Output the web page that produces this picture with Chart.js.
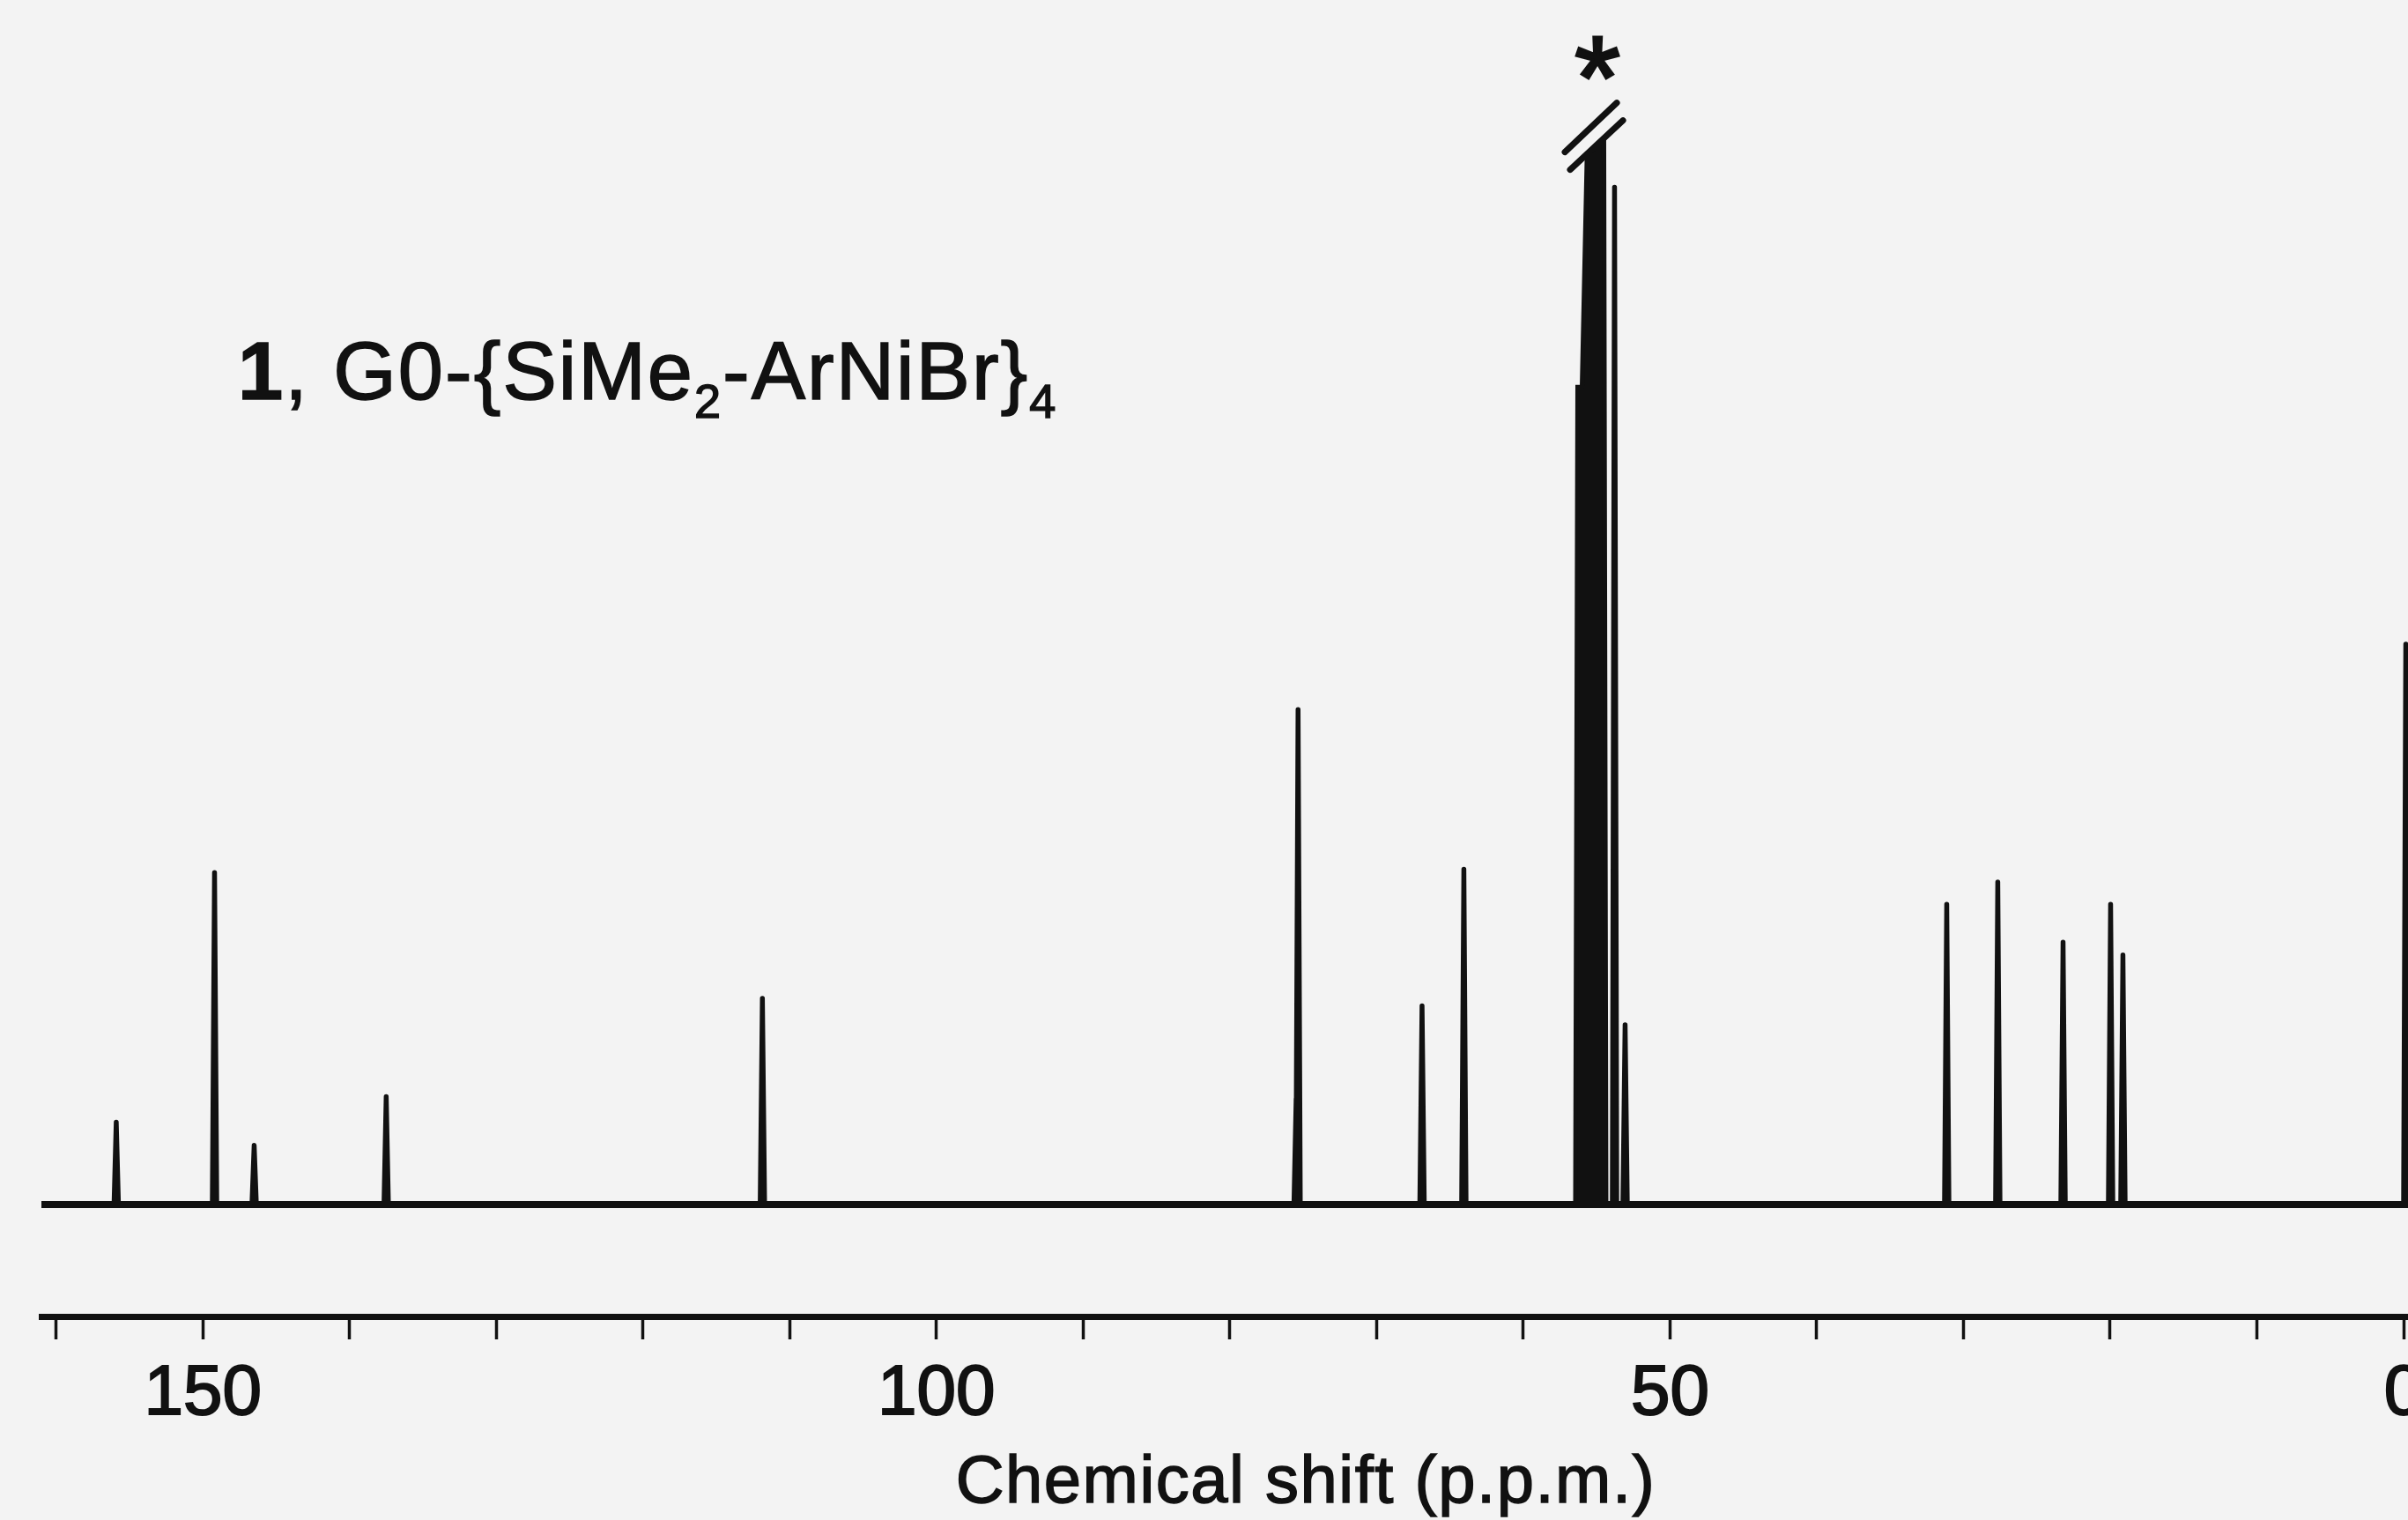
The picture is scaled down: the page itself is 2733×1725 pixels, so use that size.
<!DOCTYPE html>
<html>
<head>
<meta charset="utf-8">
<title>13C NMR spectrum of G0-{SiMe2-ArNiBr}4</title>
<script src="https://cdn.jsdelivr.net/npm/chart.js@4.4.1/dist/chart.umd.min.js"></script>
<style>
  html, body { margin: 0; padding: 0; background: #f3f3f3; overflow: hidden; }
  #wrap { width: 2733px; height: 1725px; position: relative; }
</style>
</head>
<body>
<div id="wrap"><canvas id="spectrum"></canvas></div>
<script>
// peaks: chemical shift (ppm) and height (arbitrary units)
const peakShift  = [155.9, 149.2, 146.5, 137.5, 111.86, 75.48, 75.35, 66.9, 64.05, 53.78, 53.06, 31.14, 27.66, 23.21, 19.97, 19.13, -0.15];
const peakHeight = [7.8,   31.4,  5.6,   10.2,  19.5,   10.0,  46.8,  18.8, 31.7,  96.2,  17.0,  28.4,  30.5,  24.8,  28.4,  23.6,  53.0];

// solvent multiplet (marked *), its top is cut off by the break
const solventShift  = [56.30, 56.00, 55.64, 55.34, 55.04, 54.74, 54.50];
const solventHeight = [77.3,  77.3,  100.6, 100.6, 100.6, 100.6, 100.6];

const tickLabels = [150, 100, 50, 0];
const xRange = [-0.3, 161];
const yRange = [-10.58, 113.9];

const titleParts = [
  { text: "1", bold: true },
  { text: ", G0-{SiMe" },
  { text: "2", sub: true },
  { text: "-ArNiBr}" },
  { text: "4", sub: true },
];
const axisTitle = "Chemical shift (p.p.m.)";

const INK = "#111";
const PAPER = "#f3f3f3";
const FONT = "'Liberation Sans', Arial, Helvetica, sans-serif";
const HALF = 0.15; // half width of a line at its foot, ppm

// each resolved line is drawn as a narrow spike on the baseline
function buildSpectrum() {
  const lines = peakShift.map((s, i) => ({ s, h: peakHeight[i] }))
    .sort((a, b) => b.s - a.s);
  const pts = [];
  lines.forEach((p) => {
    pts.push({ x: p.s + HALF, y: 0 });
    pts.push({ x: p.s, y: p.h });
    pts.push({ x: p.s - HALF, y: 0 });
  });
  return pts;
}

// the solvent multiplet prints as one solid block: take its envelope
function buildSolvent() {
  const n = solventShift.length;
  const pts = [{ x: solventShift[0] + HALF, y: 0 }];
  solventShift.forEach((s, i) => pts.push({ x: s, y: solventHeight[i] }));
  pts.push({ x: solventShift[n - 1] - HALF, y: 0 });
  return pts;
}

const decorations = {
  id: "decorations",
  afterDatasetsDraw(chart) {
    const ctx = chart.ctx;
    const xs = chart.scales.x;
    const ys = chart.scales.y;
    const mid = solventShift.reduce((a, b) => a + b, 0) / solventShift.length;
    const cx = xs.getPixelForValue(mid);
    const top = ys.getPixelForValue(Math.max(...solventHeight));

    ctx.save();
    // break mark over the solvent signal
    ctx.fillStyle = PAPER;
    ctx.beginPath();
    ctx.moveTo(cx - 26, top + 34);
    ctx.lineTo(cx + 42, top - 28);
    ctx.lineTo(cx + 42, top - 120);
    ctx.lineTo(cx - 26, top - 120);
    ctx.closePath();
    ctx.fill();

    ctx.strokeStyle = INK;
    ctx.lineWidth = 7;
    ctx.lineCap = "round";
    ctx.beginPath();
    ctx.moveTo(cx - 30, top + 13);
    ctx.lineTo(cx + 29, top - 43);
    ctx.moveTo(cx - 24, top + 33);
    ctx.lineTo(cx + 36, top - 23);
    ctx.stroke();

    ctx.fillStyle = INK;
    ctx.textAlign = "center";
    ctx.textBaseline = "alphabetic";
    ctx.font = "134px " + FONT;
    ctx.lineWidth = 3;
    ctx.fillText("*", cx + 7, top - 26);
    ctx.strokeText("*", cx + 7, top - 26);
    ctx.restore();
  },
  afterDraw(chart) {
    const ctx = chart.ctx;
    ctx.save();
    ctx.fillStyle = INK;
    ctx.strokeStyle = INK;
    ctx.lineWidth = 1.5;
    ctx.textBaseline = "alphabetic";
    ctx.textAlign = "left";

    // compound label
    let x = 270;
    const base = 453;
    titleParts.forEach((p) => {
      const size = p.sub ? 54 : 92;
      ctx.font = (p.bold ? "bold " : "") + size + "px " + FONT;
      ctx.letterSpacing = p.sub ? "0px" : "2px";
      const y = base + (p.sub ? 21 : 0);
      ctx.fillText(p.text, x, y);
      ctx.strokeText(p.text, x, y);
      x += ctx.measureText(p.text).width + (p.sub ? 2 : 0);
    });

    // axis title
    ctx.font = "76px " + FONT;
    ctx.letterSpacing = "1.5px";
    ctx.textAlign = "center";
    ctx.fillText(axisTitle, 1482, 1705);
    ctx.strokeText(axisTitle, 1482, 1705);
    ctx.restore();
  },
};

new Chart(document.getElementById("spectrum"), {
  type: "line",
  data: {
    datasets: [
      {
        // baseline
        data: [{ x: xRange[1], y: 0 }, { x: xRange[0], y: 0 }],
        borderColor: INK,
        borderWidth: 8,
        pointRadius: 0,
      },
      {
        data: buildSolvent(),
        borderColor: INK,
        backgroundColor: INK,
        borderWidth: 5,
        fill: "origin",
        pointRadius: 0,
        tension: 0,
      },
      {
        data: buildSpectrum(),
        borderColor: INK,
        borderWidth: 5.5,
        borderJoinStyle: "round",
        pointRadius: 0,
        tension: 0,
      },
    ],
  },
  options: {
    responsive: true,
    maintainAspectRatio: false,
    animation: false,
    events: [],
    layout: { padding: { left: 47, right: 0, top: 0, bottom: 0 } },
    plugins: {
      legend: { display: false },
      tooltip: { enabled: false },
    },
    scales: {
      x: {
        type: "linear",
        reverse: true,
        min: xRange[0],
        max: xRange[1],
        border: { display: true, color: INK, width: 7 },
        grid: {
          drawOnChartArea: false,
          drawTicks: true,
          tickLength: 26,
          tickWidth: 3.5,
          tickColor: INK,
        },
        ticks: {
          stepSize: 10,
          includeBounds: false,
          autoSkip: false,
          maxRotation: 0,
          padding: 15,
          color: INK,
          textStrokeColor: INK,
          textStrokeWidth: 2,
          font: { family: FONT, size: 80 },
          callback: (v) => (tickLabels.includes(v) ? String(v) : ""),
        },
        afterFit: (scale) => {
          scale.paddingLeft = 0;
          scale.paddingRight = 0;
          scale.height = 231;
        },
      },
      y: {
        display: false,
        min: yRange[0],
        max: yRange[1],
      },
    },
  },
  plugins: [decorations],
});
</script>
</body>
</html>
